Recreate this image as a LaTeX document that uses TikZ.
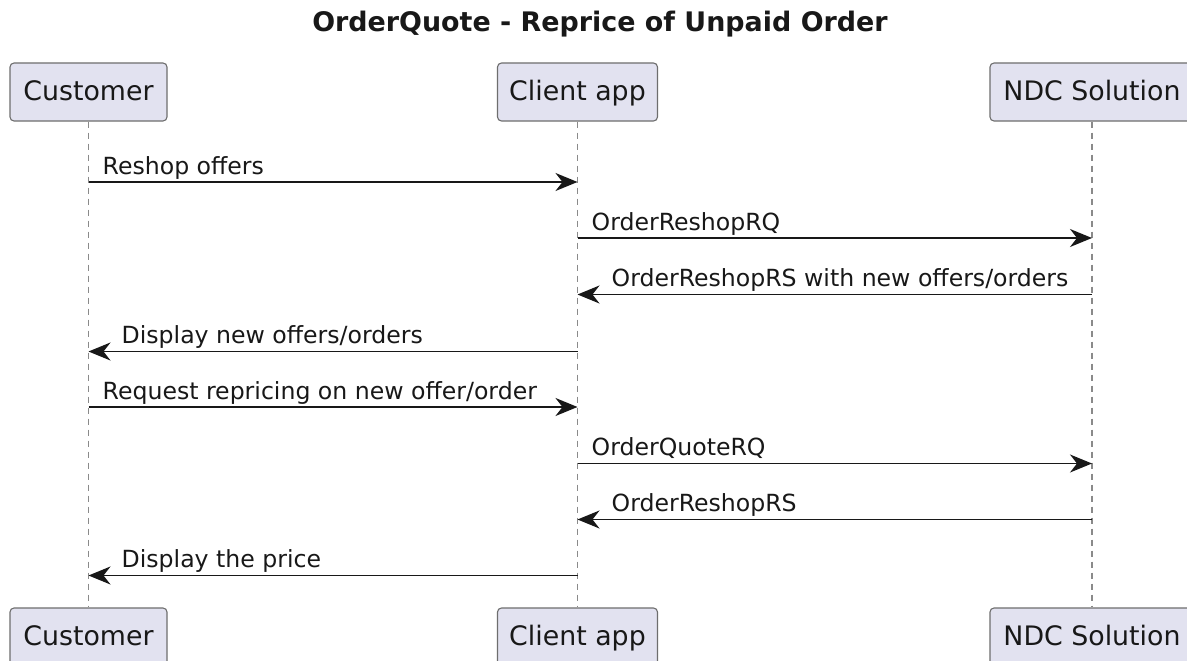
\documentclass[tikz,border=0pt]{standalone}
\usepackage{fontspec}
\setmainfont{DejaVu Sans}
\usetikzlibrary{arrows.meta}
\definecolor{partfill}{HTML}{E2E2F0}
\definecolor{partline}{HTML}{6E6E6E}
\definecolor{ink}{HTML}{181818}
\definecolor{lifec}{HTML}{8A8A8A}
\tikzset{
  part/.style={draw=partline, line width=1.1pt, fill=partfill, rounded corners=4pt,
    minimum height=58pt, inner sep=0pt, text=ink, text height=20pt, text depth=4pt,
    font=\fontsize{26.8}{32}\selectfont},
  lifeline/.style={draw=lifec, line width=1.1pt, dash pattern=on 6pt off 5pt},
  msg/.style={draw=ink, line width=1.5pt,
    -{Stealth[length=22pt, width=18pt, inset=7pt]}},
  lbl/.style={anchor=base west, inner sep=0pt, text=ink,
    font=\fontsize{23.6}{28}\selectfont},
  ttl/.style={anchor=base, inner sep=0pt, text=ink, font=\fontsize{26.9}{31}\selectfont\bfseries}
}
\begin{document}
\begin{tikzpicture}[x=1pt,y=-1pt]
\useasboundingbox (0,0) rectangle (1187,661);
\fill[white] (0,0) rectangle (1187,661);
\clip (0,0) rectangle (1187,661);

\node[ttl] (title) at (600,32) {OrderQuote - Reprice of Unpaid Order};

% participants (top)
\node[part, minimum width=157pt] (cust) at (88.5,92) {Customer};
\node[part, minimum width=160pt] (app) at (577.5,92) {Client app};
\node[part, minimum width=204pt] (ndc) at (1092,92) {NDC Solution};
% participants (bottom)
\node[part, minimum width=157pt] (custb) at (88.5,637) {Customer};
\node[part, minimum width=160pt] (appb) at (577.5,637) {Client app};
\node[part, minimum width=204pt] (ndcb) at (1092,637) {NDC Solution};

% lifelines
\draw[lifeline] (cust.south) -- (custb.north);
\draw[lifeline] (app.south) -- (appb.north);
\draw[lifeline] (ndc.south) -- (ndcb.north);

% message rows
\coordinate (m1) at (0,182);
\coordinate (m2) at (0,238);
\coordinate (m3) at (0,294.5);
\coordinate (m4) at (0,351.5);
\coordinate (m5) at (0,407);
\coordinate (m6) at (0,463.5);
\coordinate (m7) at (0,519.5);
\coordinate (m8) at (0,575.5);

\draw[msg] (cust |- m1) -- (app |- m1);
\node[lbl] (l1) at ([shift={(14,-8)}]cust |- m1) {Reshop offers};

\draw[msg] (app |- m2) -- (ndc |- m2);
\node[lbl] (l2) at ([shift={(14,-8)}]app |- m2) {OrderReshopRQ};

\draw[msg] (ndc |- m3) -- (app |- m3);
\node[lbl] (l3) at ([shift={(34,-8)}]app |- m3) {OrderReshopRS with new offers/orders};

\draw[msg] (app |- m4) -- (cust |- m4);
\node[lbl] (l4) at ([shift={(33,-8)}]cust |- m4) {Display new offers/orders};

\draw[msg] (cust |- m5) -- (app |- m5);
\node[lbl] (l5) at ([shift={(14,-8)}]cust |- m5) {Request repricing on new offer/order};

\draw[msg] (app |- m6) -- (ndc |- m6);
\node[lbl] (l6) at ([shift={(14,-8)}]app |- m6) {OrderQuoteRQ};

\draw[msg] (ndc |- m7) -- (app |- m7);
\node[lbl] (l7) at ([shift={(34,-8)}]app |- m7) {OrderReshopRS};

\draw[msg] (app |- m8) -- (cust |- m8);
\node[lbl] (l8) at ([shift={(33,-8)}]cust |- m8) {Display the price};
\end{tikzpicture}
\end{document}
